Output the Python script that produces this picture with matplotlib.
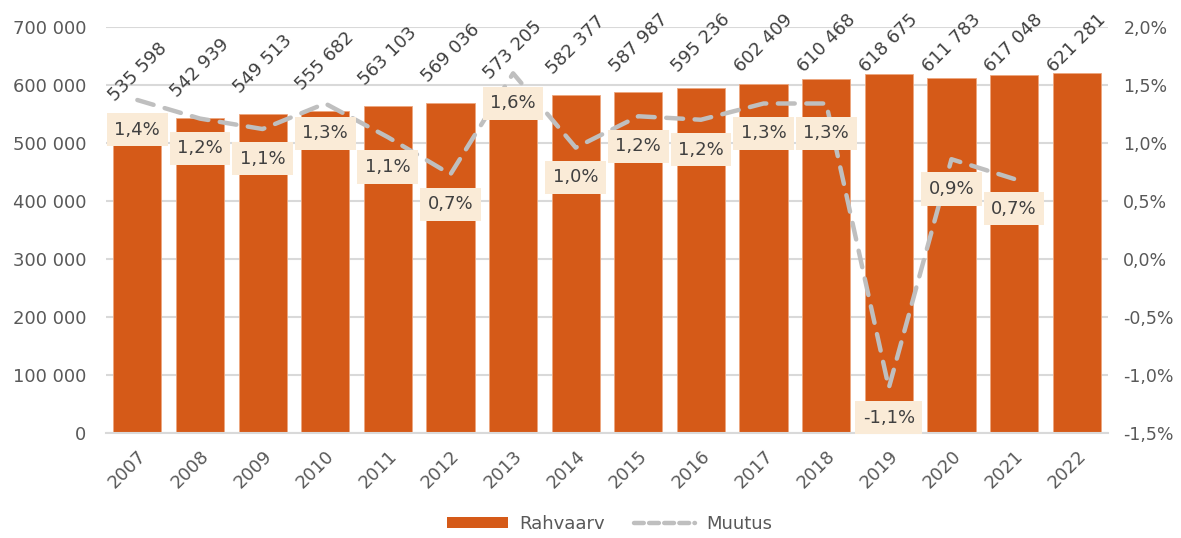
import numpy as np
import matplotlib.pyplot as plt
from matplotlib.ticker import FuncFormatter, MultipleLocator
from matplotlib.lines import Line2D
from matplotlib.patches import Patch

years = ['2007', '2008', '2009', '2010', '2011', '2012', '2013', '2014',
         '2015', '2016', '2017', '2018', '2019', '2020', '2021', '2022']
population = [535598, 542939, 549513, 555682, 563103, 569036, 573205, 582377,
              587987, 595236, 602409, 610468, 618675, 611783, 617048, 621281]
change_pct = [1.37, 1.21, 1.12, 1.34, 1.05, 0.73, 1.60, 0.96,
              1.23, 1.20, 1.34, 1.34, -1.11, 0.86, 0.69]

bar_color = '#D55A18'
line_color = '#BFBFBF'
grid_color = '#D9D9D9'
tick_color = '#595959'
label_color = '#404040'
box_color = '#FAEBD7'

plt.rcParams['font.family'] = ['DejaVu Sans']

fig = plt.figure(figsize=(11.81, 5.38), dpi=100)
ax = fig.add_axes([0.0898, 0.195, 0.8484, 0.755])
ax2 = ax.twinx()

x = np.arange(len(years))
ax.bar(x, population, width=0.77, color=bar_color, edgecolor='#EDA77F', linewidth=0.6, zorder=2)

ax.set_xlim(-0.5, len(years) - 0.5)
ax.set_ylim(0, 700000)
ax.yaxis.set_major_locator(MultipleLocator(100000))
ax.yaxis.set_major_formatter(FuncFormatter(lambda v, p: f'{int(v):,}'.replace(',', ' ')))
ax.grid(axis='y', color=grid_color, linewidth=1.5, zorder=0)
ax.set_axisbelow(True)
for s in ['top', 'right', 'left']:
    ax.spines[s].set_visible(False)
ax.spines['bottom'].set_color(grid_color)
ax.spines['bottom'].set_linewidth(1.5)
ax.set_xticks(x)
ax.set_xticklabels(years, rotation=45, ha='right', rotation_mode='anchor')
ax.tick_params(axis='x', length=0, pad=10, labelsize=13, labelcolor=tick_color)
ax.tick_params(axis='y', length=0, pad=14, labelsize=13, labelcolor=tick_color)

# value labels above bars, kept below the top of the chart
for xi, v in zip(x, population):
    ypos = min(v + 86000, 672000)
    ax.text(xi, ypos, f'{v:,}'.replace(',', ' '), rotation=45, ha='center', va='center',
            rotation_mode='anchor', fontsize=13, color=label_color, zorder=5)

# change line on secondary axis
xc = x[:len(change_pct)]
ax2.plot(xc, change_pct, color=line_color, linewidth=3.2, dashes=(3.8, 2.6),
         dash_capstyle='round', solid_capstyle='round', zorder=3)
ax2.set_ylim(-1.5, 2.0)
ax2.yaxis.set_major_locator(MultipleLocator(0.5))
ax2.yaxis.set_major_formatter(FuncFormatter(lambda v, p: f'{v:.1f}%'.replace('.', ',')))
ax2.tick_params(axis='y', length=0, pad=11, labelsize=12.5, labelcolor=tick_color)
for s in ['top', 'right', 'left', 'bottom']:
    ax2.spines[s].set_visible(False)

for xi, c in zip(xc, change_pct):
    ax2.annotate(f'{c:.1f}%'.replace('.', ','), (xi, c), xytext=(0, -21.5),
                 textcoords='offset points', ha='center', va='center',
                 fontsize=13, color=label_color, zorder=6,
                 bbox=dict(boxstyle='square,pad=0.42', fc=box_color, ec='none'))

handles = [Patch(facecolor=bar_color, edgecolor='none'),
           Line2D([0], [0], color=line_color, linewidth=3.2, dashes=(2.2, 1.2),
                  dash_capstyle='round')]
fig.legend(handles, ['Rahvaarv', 'Muutus'], loc='center', bbox_to_anchor=(0.516, 0.026),
           ncol=2, frameon=False, fontsize=13, labelcolor=tick_color,
           handlelength=3.4, handleheight=0.5, columnspacing=1.6, handletextpad=0.6)

fig.savefig('out.png', dpi=100)
